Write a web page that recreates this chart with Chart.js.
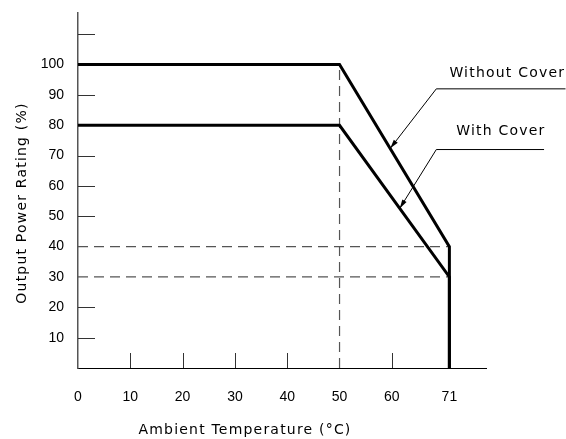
<!DOCTYPE html>
<html>
<head>
<meta charset="utf-8">
<script src="https://cdn.jsdelivr.net/npm/chart.js@4.4.0/dist/chart.umd.min.js"></script>
<style>
  html, body { margin: 0; background: #fff; }
</style>
</head>
<body>
<canvas id="derating" width="566" height="439"></canvas>
<script>
// derating curves (ambient temperature in °C, output power in %)
const tempWithout = [0, 50, 71, 71];
const powerWithout = [100, 100, 40, 0];
const tempWith = [0, 50, 71, 71];
const powerWith = [80, 80, 30, 0];

// tick labels and short tick marks
const xTickValues = [0, 10, 20, 30, 40, 50, 60, 71];
const yTickValues = [10, 20, 30, 40, 50, 60, 70, 80, 90, 100, 110];
const xTickMarks = [10, 20, 30, 40, 60];
const yTickMarks = [10, 20, 50, 60, 70, 90, 110];

// dashed guides
const guideX = [50];
const guideY = [40, 30];

// callouts: leader points (arrow tip first) and label text
const leaderWithoutX = [59.7, 68.5, 93.2];
const leaderWithoutY = [72.4, 92, 92];
const leaderWithX = [61.5, 68.5, 89.1];
const leaderWithY = [52.6, 72, 72];
const calloutText = ['Without Cover', 'With Cover'];
const calloutX = [71, 72.3];
const calloutY = [97, 78];

const xTitle = 'Ambient Temperature (°C)';
const yTitle = 'Output Power Rating (%)';

const tickFont = { family: "'Liberation Sans', Arial, sans-serif", size: 14 };
const textFont = "14px 'DejaVu Sans', sans-serif";

const pts = (xs, ys) => xs.map((v, i) => ({ x: v, y: ys[i] }));

const datasets = [
  { data: pts(tempWithout, powerWithout), borderColor: '#000', borderWidth: 3 },
  { data: pts(tempWith, powerWith), borderColor: '#000', borderWidth: 3 },
  { data: pts(leaderWithoutX, leaderWithoutY), borderColor: '#000', borderWidth: 1, clip: false },
  { data: pts(leaderWithX, leaderWithY), borderColor: '#000', borderWidth: 1, clip: false },
];
guideX.forEach(v => datasets.push({
  data: [{ x: v, y: 0 }, { x: v, y: 100 }], borderColor: '#555', borderWidth: 1.2, borderDash: [10, 6]
}));
guideY.forEach(v => datasets.push({
  data: [{ x: 0, y: v }, { x: 71, y: v }], borderColor: '#555', borderWidth: 1.2, borderDash: [10, 6]
}));

const extras = {
  id: 'extras',
  afterDatasetsDraw(chart) {
    const { ctx, chartArea } = chart;
    const x = chart.scales.x, y = chart.scales.y;
    ctx.save();
    ctx.strokeStyle = '#333';
    ctx.lineWidth = 1;
    xTickMarks.forEach(v => {
      const px = Math.round(x.getPixelForValue(v)) + 0.5;
      ctx.beginPath();
      ctx.moveTo(px, chartArea.bottom);
      ctx.lineTo(px, chartArea.bottom - 15);
      ctx.stroke();
    });
    yTickMarks.forEach(v => {
      const py = Math.round(y.getPixelForValue(v)) + 0.5;
      ctx.beginPath();
      ctx.moveTo(chartArea.left, py);
      ctx.lineTo(chartArea.left + 17, py);
      ctx.stroke();
    });

    // arrowheads at the leader tips
    [[leaderWithoutX, leaderWithoutY], [leaderWithX, leaderWithY]].forEach(([lx, ly]) => {
      const tx = x.getPixelForValue(lx[0]), ty = y.getPixelForValue(ly[0]);
      const bx = x.getPixelForValue(lx[1]), by = y.getPixelForValue(ly[1]);
      const a = Math.atan2(ty - by, tx - bx);
      const len = 9, half = 2.5;
      ctx.fillStyle = '#000';
      ctx.beginPath();
      ctx.moveTo(tx, ty);
      ctx.lineTo(tx - len * Math.cos(a) + half * Math.sin(a), ty - len * Math.sin(a) - half * Math.cos(a));
      ctx.lineTo(tx - len * Math.cos(a) - half * Math.sin(a), ty - len * Math.sin(a) + half * Math.cos(a));
      ctx.closePath();
      ctx.fill();
    });

    ctx.fillStyle = '#000';
    ctx.font = textFont;
    ctx.letterSpacing = '1.2px';
    ctx.textBaseline = 'middle';
    ctx.textAlign = 'left';
    calloutText.forEach((t, i) => {
      ctx.fillText(t, x.getPixelForValue(calloutX[i]), y.getPixelForValue(calloutY[i]));
    });

    // axis titles
    ctx.textAlign = 'center';
    ctx.fillText(xTitle, 245, 430);
    ctx.translate(22, 203);
    ctx.rotate(-Math.PI / 2);
    ctx.fillText(yTitle, 0, 0);
    ctx.restore();
  }
};

new Chart(document.getElementById('derating'), {
  type: 'line',
  data: { datasets },
  options: {
    responsive: false,
    animation: false,
    layout: { padding: { top: 13, right: 80, left: 0, bottom: 0 } },
    elements: {
      point: { radius: 0 },
      line: { tension: 0, fill: false, borderCapStyle: 'butt' }
    },
    plugins: {
      legend: { display: false },
      tooltip: { enabled: false }
    },
    scales: {
      x: {
        type: 'linear',
        min: 0,
        max: 78,
        afterBuildTicks: s => { s.ticks = xTickValues.map(v => ({ value: v })); },
        afterFit: s => { s.height = 71; s.paddingLeft = 0; s.paddingRight = 0; },
        grid: { display: false, drawTicks: false },
        border: { color: '#000', width: 1 },
        ticks: { color: '#000', font: tickFont, padding: 21, autoSkip: false, maxRotation: 0 }
      },
      y: {
        type: 'linear',
        min: 0,
        max: 117,
        afterBuildTicks: s => { s.ticks = yTickValues.map(v => ({ value: v })); },
        afterFit: s => { s.width = 78; s.paddingTop = 0; s.paddingBottom = 0; },
        grid: { display: false, drawTicks: false },
        border: { color: '#555', width: 1.5 },
        ticks: { color: '#000', font: tickFont, padding: 14, callback: v => v === 110 ? '' : v }
      }
    }
  },
  plugins: [extras]
});
</script>
</body>
</html>
